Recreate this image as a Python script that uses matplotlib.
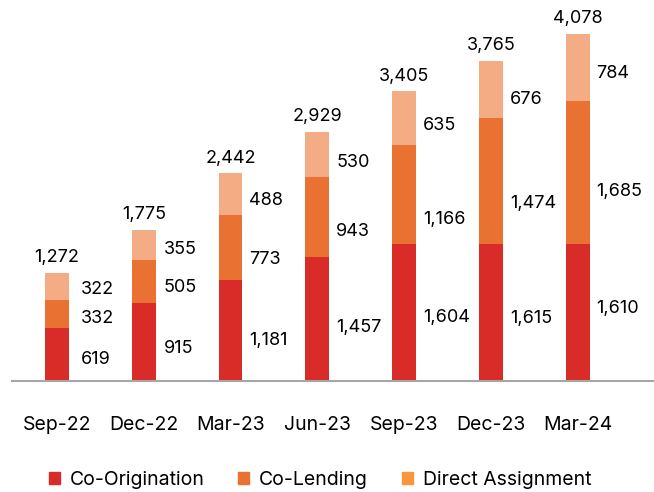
import matplotlib.pyplot as plt
from matplotlib.patches import Patch
import numpy as np

plt.rcParams['font.family'] = ['Inter', 'DejaVu Sans']

quarters = ['Sep-22', 'Dec-22', 'Mar-23', 'Jun-23', 'Sep-23', 'Dec-23', 'Mar-24']
co_origination = [619, 915, 1181, 1457, 1604, 1615, 1610]
co_lending = [332, 505, 773, 943, 1166, 1474, 1685]
direct_assignment = [322, 355, 488, 530, 635, 676, 784]
totals = [1272, 1775, 2442, 2929, 3405, 3765, 4078]

# label nudges in pixels (down), to follow the hand-placed labels of the original
nudge_orig = [5, 6, 10, 8, 5, 6, -4]
nudge_lend = [4, 6, 12, 15, 25, 23, 19]
nudge_da = [3, 4, 7, 8, 7, 10, 6]
label_gap = [12, 8, 7, 7, 7, 7, 7]

c_orig = '#D92B27'
c_lend = '#E97132'
c_da = '#F4AC84'
c_da_legend = '#F7963C'

fig = plt.figure(figsize=(6.54, 4.92), dpi=100)
ax = fig.add_axes([12 / 654, 111 / 492, 642 / 654, 381 / 492])

x = np.arange(len(quarters))
w = 0.276
orig = np.array(co_origination)
lend = np.array(co_lending)
da = np.array(direct_assignment)

ax.bar(x, orig, w, color=c_orig)
ax.bar(x, lend, w, bottom=orig, color=c_lend)
ax.bar(x, da, w, bottom=orig + lend, color=c_da)

fs = 13
px = 0.72  # points per pixel at 100 dpi
for i in range(len(x)):
    xr = x[i] + w / 2
    segs = [(orig[i], orig[i] / 2, nudge_orig[i]),
            (lend[i], orig[i] + lend[i] / 2, nudge_lend[i]),
            (da[i], orig[i] + lend[i] + da[i] / 2, nudge_da[i])]
    for v, yc, nd in segs:
        ax.annotate(f'{v:,}', (xr, yc), xytext=(label_gap[i] * px, -nd * px),
                    textcoords='offset points', ha='left', va='center', fontsize=fs)
    ax.annotate(f'{totals[i]:,}', (x[i], totals[i]), xytext=(0, 15 * px),
                textcoords='offset points', ha='center', va='center', fontsize=fs)

ax.set_xlim(-0.518, 6.88)
ax.set_ylim(0, 4477)
ax.set_xticks(x)
ax.set_xticklabels(quarters, fontsize=14)
ax.tick_params(axis='x', length=0, pad=25.5)
ax.set_yticks([])
for s in ['top', 'right', 'left']:
    ax.spines[s].set_visible(False)
ax.spines['bottom'].set_color('#A6A6A6')
ax.spines['bottom'].set_linewidth(1.5)

handles = [Patch(color=c_orig, label='Co-Origination'),
           Patch(color=c_lend, label='Co-Lending'),
           Patch(color=c_da_legend, label='Direct Assignment')]
fig.legend(handles=handles, loc='center', bbox_to_anchor=(320 / 654, 12 / 492), ncol=3,
           frameon=False, fontsize=14, handlelength=0.57, handleheight=0.57,
           handletextpad=0.5, columnspacing=1.75)

fig.savefig('out.png', dpi=100)
